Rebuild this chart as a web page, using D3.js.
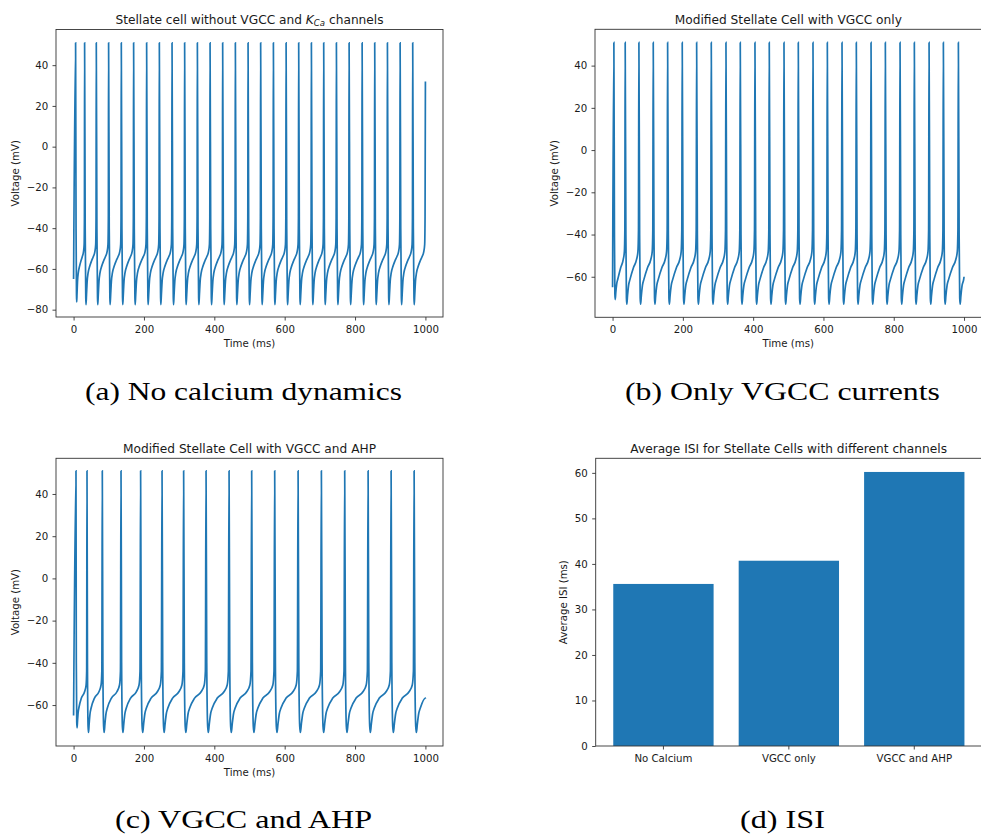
<!DOCTYPE html>
<html lang="en">
<head>
<meta charset="utf-8">
<title>stellate cells</title>
<script src="https://cdn.jsdelivr.net/npm/d3@7"></script>
<style>
  body { margin: 0; background: #fff; }
  .axis text { font-family: "DejaVu Sans"; font-size: 10.2px; }
  .lbl { font-family: "DejaVu Sans"; font-size: 10.2px; fill: #1a1a1a; }
  .ttl { font-family: "DejaVu Sans"; font-size: 12.2px; fill: #1a1a1a; }
  .cap { font-family: "Liberation Serif"; font-size: 26px; fill: #000; }
</style>
</head>
<body>
<script>
// spike peak times (ms)
var spikeTimesA = [5.7, 31.3, 64.5, 99.5, 135.6, 170.6, 207.6, 243.7, 279.8, 315.6, 351.8, 387.9, 423.7, 459.8,
  495.9, 531.7, 567.9, 604.0, 639.8, 675.9, 710.9, 747.0, 783.1, 820.1, 855.9, 892.0, 928.1, 963.9]
var spikeTimesB = [3.7, 35.9, 74.9, 115.7, 156.6, 198.2, 239.2, 280.8, 322.6, 363.3, 405.1, 445.8, 487.7,
  528.4, 570.2, 611.0, 652.8, 693.5, 735.4, 776.1, 817.9, 858.6, 900.5, 941.2, 983.9]
var spikeTimesC = [6.8, 38.1, 81.6, 134.8, 190.5, 251.4, 312.8, 376.5, 441.9, 506.2, 571.6, 638.1, 704.3,
  770.6, 837.1, 902.5, 967.9]

// one cycle of the waveform: [fraction of the ISI after the peak, mV]
var shapeA = [[0, 51], [0.05, -40], [0.1, -74], [0.12, -77.5], [0.16, -73], [0.22, -66], [0.3, -62],
  [0.45, -58.5], [0.6, -56], [0.74, -54], [0.88, -51.5], [0.95, -48], [0.98, -35]]
var shapeB = [[0, 51], [0.05, -40], [0.09, -70], [0.12, -73], [0.17, -69], [0.25, -64], [0.36, -61],
  [0.6, -55.7], [0.83, -51.8], [0.93, -48], [0.97, -38]]
var shapeC = [[0, 51], [0.03, -40], [0.07, -70], [0.1, -73], [0.14, -69], [0.2, -64], [0.27, -61.4],
  [0.49, -56.7], [0.78, -53.7], [0.92, -50.5], [0.97, -44]]

var startV = [-65, -65, -65]
var endV = [32, -60, -57]
var troughV = [-77.5, -73, -73]
var firstTroughV = [-76.2, -70.8, -70.8]

var timeTicks = [0, 200, 400, 600, 800, 1000]
var voltTicksA = [-80, -60, -40, -20, 0, 20, 40]
var voltTicksBC = [-60, -40, -20, 0, 20, 40]

var isiLabels = ["No Calcium", "VGCC only", "VGCC and AHP"]
var isiValues = [35.6, 40.7, 60.2]
var isiTicks = [0, 10, 20, 30, 40, 50, 60]

var titles = ["Modified Stellate Cell with VGCC only", "Modified Stellate Cell with VGCC and AHP",
  "Average ISI for Stellate Cells with different channels"]
var captions = ["(a) No calcium dynamics", "(b) Only VGCC currents", "(c) VGCC and AHP", "(d) ISI"]

var width = 981, height = 835
var blue = "#1f77b4"
var svg = d3.select("body").append("svg").attr("width", width).attr("height", height)

// put the cycle template at each spike time
function buildTrace(spikes, shape, v0, v1, first, trough) {
  var pts = [[0, v0]]
  spikes.forEach(function(t0, i) {
    var t1 = i + 1 < spikes.length ? spikes[i + 1] : t0 + (t0 - spikes[i - 1])
    var k = i == 0 ? (first + 60) / (trough + 60) : 1
    shape.forEach(function(s) {
      var v = s[1] < -60 ? -60 + (s[1] + 60) * k : s[1]
      pts.push([t0 + s[0] * (t1 - t0), v])
    })
  })
  pts = pts.filter(function(d) { return d[0] < 1000 })
  pts.push([1000, v1])
  return pts
}

function frame(l, r, t, b) {
  svg.append("rect").attr("x", l).attr("y", t).attr("width", r - l).attr("height", b - t)
    .attr("fill", "none").attr("stroke", "#333").attr("stroke-width", 0.9)
}

function styleAxis(g) {
  g.attr("class", "axis").attr("color", "#1a1a1a")
  g.select(".domain").remove()
  g.selectAll(".tick line").attr("stroke", "#333").attr("stroke-width", 0.9)
}

function voltagePanel(p) {
  var x = d3.scaleLinear().domain([-50, 1050]).range([p.left, p.right])
  var y = d3.scaleLinear().domain(p.yDomain).range([p.bottom, p.top])

  var line = d3.line().x(function(d) { return x(d[0]) }).y(function(d) { return y(d[1]) })
    .curve(d3.curveMonotoneX)
  svg.append("path").datum(p.trace).attr("d", line)
    .attr("fill", "none").attr("stroke", blue).attr("stroke-width", 1.7)

  frame(p.left, p.right, p.top, p.bottom)

  svg.append("g").attr("transform", "translate(0," + p.bottom + ")")
    .call(d3.axisBottom(x).tickValues(timeTicks).tickSize(3.5).tickPadding(5.3).tickFormat(d3.format("d")))
    .call(styleAxis)
  svg.append("g").attr("transform", "translate(" + p.left + ",0)")
    .call(d3.axisLeft(y).tickValues(p.yTicks).tickSize(3.5).tickPadding(4.2))
    .call(styleAxis)

  svg.append("text").attr("class", "lbl").attr("x", (p.left + p.right) / 2).attr("y", p.bottom + 29.5)
    .attr("text-anchor", "middle").text("Time (ms)")
  svg.append("text").attr("class", "lbl").attr("text-anchor", "middle")
    .attr("transform", "translate(" + (p.left - 37) + "," + (p.top + p.bottom) / 2 + ") rotate(-90)")
    .text("Voltage (mV)")
  return svg.append("text").attr("class", "ttl").attr("x", (p.left + p.right) / 2).attr("y", p.top - 5.8)
    .attr("text-anchor", "middle")
}

// (a)
var tA = voltagePanel({ left: 56, right: 443, top: 29.5, bottom: 317, yDomain: [-83.6, 57.5], yTicks: voltTicksA,
  trace: buildTrace(spikeTimesA, shapeA, startV[0], endV[0], firstTroughV[0], troughV[0]) })
tA.append("tspan").text("Stellate cell without VGCC and ")
tA.append("tspan").attr("font-style", "italic").text("K")
tA.append("tspan").attr("font-style", "italic").attr("font-size", "8.6px").attr("dy", 2.6).text("Ca")
tA.append("tspan").attr("dy", -2.6).text(" channels")

// (b)
voltagePanel({ left: 595, right: 981.6, top: 29.3, bottom: 317.3, yDomain: [-79.2, 57.2], yTicks: voltTicksBC,
  trace: buildTrace(spikeTimesB, shapeB, startV[1], endV[1], firstTroughV[1], troughV[1]) }).text(titles[0])

// (c)
voltagePanel({ left: 56, right: 443, top: 458.3, bottom: 746, yDomain: [-79.4, 56.9], yTicks: voltTicksBC,
  trace: buildTrace(spikeTimesC, shapeC, startV[2], endV[2], firstTroughV[2], troughV[2]) }).text(titles[1])

// (d) bar chart
var dl = 595.7, dr = 982, dt = 458.3, db = 746
var xb = d3.scaleBand().domain(isiLabels).range([dl, dr]).paddingInner(0.2).paddingOuter(0.14)
var yb = d3.scaleLinear().domain([0, 63.2]).range([db, dt])

svg.selectAll("rect.bar").data(isiValues).enter().append("rect").attr("class", "bar")
  .attr("x", function(d, i) { return xb(isiLabels[i]) })
  .attr("y", function(d) { return yb(d) })
  .attr("width", xb.bandwidth())
  .attr("height", function(d) { return db - yb(d) })
  .attr("fill", blue)

frame(dl, dr, dt, db)
svg.append("g").attr("transform", "translate(0," + db + ")")
  .call(d3.axisBottom(xb).tickSize(3.5).tickPadding(5.3))
  .call(styleAxis)
svg.append("g").attr("transform", "translate(" + dl + ",0)")
  .call(d3.axisLeft(yb).tickValues(isiTicks).tickSize(3.5).tickPadding(4.5))
  .call(styleAxis)
svg.append("text").attr("class", "lbl").attr("text-anchor", "middle")
  .attr("transform", "translate(" + (dl - 29) + "," + (dt + db) / 2 + ") rotate(-90)")
  .text("Average ISI (ms)")
svg.append("text").attr("class", "ttl").attr("x", (dl + 981.6) / 2).attr("y", dt - 5.8)
  .attr("text-anchor", "middle").text(titles[2])

// sub-figure captions
var capPos = [[243.5, 399.5, 317], [782.5, 399.5, 315], [243.5, 828, 257], [782.5, 828, 85]]
captions.forEach(function(c, i) {
  svg.append("text").attr("class", "cap").attr("x", capPos[i][0]).attr("y", capPos[i][1])
    .attr("text-anchor", "middle").attr("textLength", capPos[i][2]).attr("lengthAdjust", "spacingAndGlyphs")
    .text(c)
})
</script>
</body>
</html>
